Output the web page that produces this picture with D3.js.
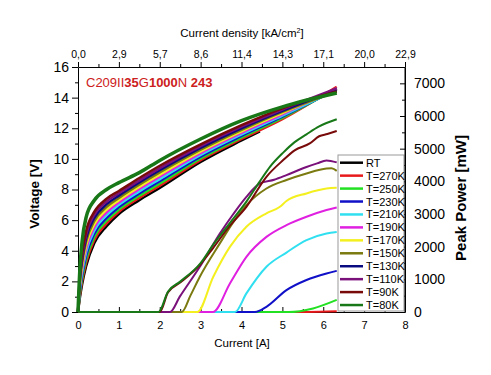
<!DOCTYPE html>
<html>
<head>
<meta charset="utf-8">
<script src="https://cdn.jsdelivr.net/npm/d3@7"></script>
<style>
  body { margin: 0; background: #fff; }
  text { font-family: "Liberation Sans", Arial, sans-serif; }
</style>
</head>
<body>
<svg id="chart" width="491" height="375"></svg>
<script>
"use strict";

// Legend order, colours
const temps = ["RT", "T=270K", "T=250K", "T=230K", "T=210K", "T=190K", "T=170K", "T=150K", "T=130K", "T=110K", "T=90K", "T=80K"];
const colors = ["#000000", "#e8191b", "#22e022", "#1010c8", "#30e0f0", "#e020e0", "#f4f020", "#7a7a10", "#0a0a80", "#7a107a", "#780a0a", "#187818"];

// Top axis labels (current density, one per ampere)
const densityLabels = ["0,0", "2,9", "5,7", "8,6", "11,4", "14,3", "17,1", "20,0", "22,9"];

// Voltage curves: current [A] grid and voltage per temperature
const ivCurrent = [0, 0.05, 0.1, 0.2, 0.4, 0.7, 1.0, 1.5, 2.0, 3.0, 4.0, 5.0, 6.33];
const ivVoltage = {
    "RT":     [0, 1.0, 1.8, 3.0, 4.5, 5.6, 6.4, 7.3, 8.1, 9.8, 11.2],
    "T=270K": [0, 1.16, 2.0, 3.23, 4.71, 5.78, 6.55, 7.45, 8.25, 9.92, 11.3, 12.6, 14.7],
    "T=250K": [0, 1.32, 2.2, 3.46, 4.91, 5.96, 6.7, 7.59, 8.39, 10.03, 11.4, 12.68, 14.6],
    "T=230K": [0, 1.48, 2.4, 3.69, 5.12, 6.14, 6.85, 7.74, 8.54, 10.15, 11.5, 12.76, 14.55],
    "T=210K": [0, 1.64, 2.6, 3.92, 5.32, 6.32, 7.0, 7.88, 8.68, 10.26, 11.6, 12.83, 14.5],
    "T=190K": [0, 1.8, 2.8, 4.15, 5.53, 6.5, 7.15, 8.03, 8.83, 10.38, 11.7, 12.91, 14.6],
    "T=170K": [0, 1.96, 3.0, 4.38, 5.73, 6.68, 7.3, 8.17, 8.97, 10.49, 11.8, 12.99, 14.5],
    "T=150K": [0, 2.12, 3.2, 4.61, 5.94, 6.86, 7.45, 8.32, 9.12, 10.6, 11.9, 13.07, 14.4],
    "T=130K": [0, 2.28, 3.4, 4.84, 6.14, 7.04, 7.6, 8.46, 9.26, 10.72, 12.0, 13.14, 14.5],
    "T=110K": [0, 2.44, 3.6, 5.07, 6.35, 7.22, 7.75, 8.6, 9.4, 10.84, 12.1, 13.22, 14.6],
    "T=90K":  [0, 2.6, 3.8, 5.3, 6.55, 7.4, 7.9, 8.75, 9.55, 10.95, 12.2, 13.3, 14.4],
    "T=80K":  [0, 3.0, 4.6, 6.2, 7.3, 8.0, 8.45, 9.1, 9.9, 11.3, 12.5, 13.4, 14.3]
};
// RT curve stops early
const rtEnd = [4.45, 11.8];

// Peak power curves: [current A, power mW]
const power = {
    "T=270K": [[0, 0], [5.6, 0], [6.33, 20]],
    "T=250K": [[0, 0], [5.15, 0], [5.75, 110], [6.33, 370]],
    "T=230K": [[0, 0], [4.33, 0], [4.61, 160], [5.1, 670], [5.59, 980], [6.08, 1180], [6.33, 1260]],
    "T=210K": [[0, 0], [3.84, 0], [4.12, 570], [4.61, 1385], [5.1, 1820], [5.59, 2200], [6.08, 2400], [6.33, 2450]],
    "T=190K": [[0, 0], [3.3, 0], [3.72, 880], [4.12, 1690], [4.61, 2300], [5.1, 2660], [5.59, 2915], [6.08, 3120], [6.33, 3200]],
    "T=170K": [[0, 0], [2.92, 0], [3.31, 1080], [3.72, 2000], [4.12, 2610], [4.61, 3020], [4.94, 3220], [5.1, 3400], [5.59, 3630], [6.08, 3780], [6.33, 3800]],
    "T=150K": [[0, 0], [2.54, 0], [2.75, 500], [2.98, 1080], [3.47, 2100], [3.8, 2750], [4.12, 3270], [4.61, 3780], [5.1, 4040], [5.59, 4240], [6.08, 4390], [6.2, 4400], [6.33, 4320]],
    "T=110K": [[0, 0], [2.25, 0], [2.49, 470], [2.98, 1385], [3.47, 2400], [3.8, 3000], [4.12, 3525], [4.45, 3935], [4.8, 4050], [5.1, 4190], [5.59, 4440], [5.85, 4550], [6.08, 4640], [6.33, 4580]],
    "T=90K":  [[0, 0], [2.0, 0], [2.2, 600], [2.5, 900], [3.0, 1470], [3.3, 1950], [3.7, 2620], [4.12, 3220], [4.61, 4140], [5.02, 4650], [5.3, 4950], [5.67, 5160], [5.9, 5380], [6.1, 5450], [6.33, 5540]],
    "T=80K":  [[0, 0], [1.97, 0], [2.2, 620], [2.5, 930], [3.0, 1500], [3.3, 2050], [3.7, 2700], [4.12, 3380], [4.45, 4000], [4.7, 4450], [5.02, 4880], [5.3, 5200], [5.59, 5440], [5.9, 5680], [6.33, 5900]]
};

const svg = d3.select("#chart");
const plotLeft = 78, plotRight = 405, plotTop = 67, plotBottom = 312;

const x = d3.scaleLinear().domain([0, 8]).range([plotLeft, plotRight]);
const y = d3.scaleLinear().domain([0, 16]).range([plotBottom, plotTop]);
const yP = d3.scaleLinear().domain([0, 7500]).range([plotBottom, plotTop]);

const colorOf = (t) => colors[temps.indexOf(t)];

// Axes
function styleAxis(g, size) {
    g.select(".domain").attr("stroke", "#000").attr("stroke-width", 1);
    g.selectAll(".tick line").attr("stroke", "#000");
    g.selectAll(".tick text").attr("fill", "#000").style("font-size", size + "px")
        .style("font-family", "'Liberation Sans', Arial, sans-serif");
}

const minorX = d3.range(0.5, 8, 1);
const minorY = d3.range(1, 16, 2);
const minorP = d3.range(500, 7500, 1000);

// minor ticks
svg.append("g").attr("transform", `translate(0,${plotBottom})`)
    .call(d3.axisBottom(x).tickValues(minorX).tickSize(-3).tickFormat(""))
    .call((g) => g.select(".domain").remove());
svg.append("g").attr("transform", `translate(0,${plotTop})`)
    .call(d3.axisTop(x).tickValues(minorX).tickSize(3).tickFormat(""))
    .call((g) => g.select(".domain").remove());
svg.append("g").attr("transform", `translate(${plotLeft},0)`)
    .call(d3.axisLeft(y).tickValues(minorY).tickSize(3).tickFormat(""))
    .call((g) => g.select(".domain").remove());
svg.append("g").attr("transform", `translate(${plotRight},0)`)
    .call(d3.axisRight(yP).tickValues(minorP).tickSize(-3).tickFormat(""))
    .call((g) => g.select(".domain").remove());

svg.append("g").attr("transform", `translate(0,${plotBottom})`)
    .call(d3.axisBottom(x).ticks(8).tickSize(-5).tickSizeOuter(0).tickPadding(9))
    .call((g) => styleAxis(g, 11));
svg.append("g").attr("transform", `translate(0,${plotTop})`)
    .call(d3.axisTop(x).ticks(8).tickSize(5).tickSizeOuter(0).tickPadding(4)
        .tickFormat((d) => densityLabels[d]))
    .call((g) => styleAxis(g, 10.5));
svg.append("g").attr("transform", `translate(${plotLeft},0)`)
    .call(d3.axisLeft(y).tickValues(d3.range(0, 17, 2)).tickSize(6).tickSizeOuter(0).tickPadding(3))
    .call((g) => styleAxis(g, 14));
svg.append("g").attr("transform", `translate(${plotRight},0)`)
    .call(d3.axisRight(yP).tickValues(d3.range(0, 7001, 1000)).tickSize(-5).tickSizeOuter(0).tickPadding(9)
        .tickFormat(d3.format("d")))
    .call((g) => styleAxis(g, 14));

// Power curves
const pLine = d3.line().x((d) => x(d[0])).y((d) => yP(d[1])).curve(d3.curveMonotoneX);
Object.keys(power).forEach((t) => {
    svg.append("path")
        .attr("d", pLine(power[t]))
        .attr("fill", "none")
        .attr("stroke", colorOf(t))
        .attr("stroke-width", 2);
});

// Voltage curves (RT first, 80K on top)
const vLine = d3.line().x((d) => x(d[0])).y((d) => y(d[1])).curve(d3.curveMonotoneX);
temps.forEach((t) => {
    let pts = ivVoltage[t].map((v, i) => [ivCurrent[i], v]);
    if (t === "RT") pts.push(rtEnd);
    svg.append("path")
        .attr("d", vLine(pts))
        .attr("fill", "none")
        .attr("stroke", colorOf(t))
        .attr("stroke-width", t === "T=80K" ? 3.5 : 2.5);
});

// Legend
const legend = svg.append("g");
legend.append("rect")
    .attr("x", 338).attr("y", 155).attr("width", plotRight - 338 - 1).attr("height", plotBottom - 155 - 1)
    .attr("fill", "#fff").attr("stroke", "#9a9a9a").attr("stroke-width", 1);
temps.forEach((t, i) => {
    const ly = 162.7 + i * 12.94;
    legend.append("line")
        .attr("x1", 340).attr("x2", 363).attr("y1", ly).attr("y2", ly)
        .attr("stroke", colors[i]).attr("stroke-width", 2.5);
    legend.append("text")
        .attr("x", 366).attr("y", ly + 4)
        .style("font-size", "11px")
        .text(t);
});

// Re-draw right axis line over legend
svg.append("line").attr("x1", plotRight).attr("x2", plotRight).attr("y1", plotTop).attr("y2", plotBottom)
    .attr("stroke", "#000");

// Sample title
const title = svg.append("text").attr("x", 86).attr("y", 86.5)
    .style("font-size", "13px").attr("fill", "#cc2020");
[["C209II", false], ["35", true], ["G", false], ["1000", true], ["N ", false], ["243", true]].forEach(([s, b]) => {
    title.append("tspan").style("font-weight", b ? "bold" : "normal").text(s);
});

// Axis titles
svg.append("text").attr("x", 242).attr("y", 37).attr("text-anchor", "middle")
    .style("font-size", "11.5px")
    .html('Current density [kA/cm<tspan dy="-4" style="font-size:7px">2</tspan><tspan dy="4">]</tspan>');
svg.append("text").attr("x", 242).attr("y", 347).attr("text-anchor", "middle")
    .style("font-size", "11.5px").text("Current [A]");
svg.append("text").attr("transform", "translate(39,194) rotate(-90)").attr("text-anchor", "middle")
    .style("font-size", "13.5px").style("font-weight", "bold").text("Voltage [V]");
svg.append("text").attr("transform", "translate(466,198) rotate(-90)").attr("text-anchor", "middle")
    .style("font-size", "15px").style("font-weight", "bold").text("Peak Power [mW]");
</script>
</body>
</html>
